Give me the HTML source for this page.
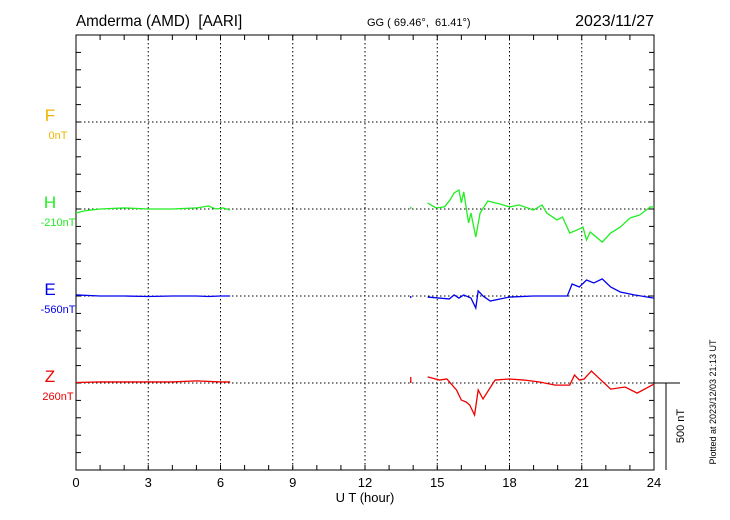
<!DOCTYPE html>
<html><head><meta charset="utf-8"><style>
body{margin:0;background:#fff;}
svg{display:block;font-family:"Liberation Sans",sans-serif;}
text{white-space:pre;}
</style></head><body>
<svg id="chart" width="730" height="520"></svg>
<script>
const hourTicks=[0,3,6,9,12,15,18,21,24];
const components=["F","H","E","Z"];
const baseLabels=["0nT","-210nT","-560nT","260nT"];
const colors=["#f0b400","#22ee22","#0000ee","#ee0000"];
// deviations in nT, [hour, nT]
const hSeg1=[[0,-23],[0.3,-12],[0.6,-6],[1,0],[2,6],[3,0],[4,0],[5,6],[5.5,17],[5.8,0],[6.1,6],[6.4,-6]];
const hSeg2=[[14.6,35],[14.95,6],[15.3,12],[15.53,52],[15.7,92],[15.9,109],[16.0,35],[16.1,98],[16.3,-80],[16.4,-23],[16.6,-161],[16.78,-23],[17.1,46],[17.6,29],[18.0,12],[18.4,23],[19.0,-6],[19.35,23],[19.55,-23],[19.97,-63],[20.2,-46],[20.5,-138],[20.8,-121],[21.05,-104],[21.2,-178],[21.35,-132],[21.85,-190],[22.2,-138],[22.6,-104],[23.0,-52],[23.4,-35],[23.85,12],[24,12]];
const eSeg1=[[0,6],[1,0],[2,0],[3,-3],[4,0],[5,0],[5.5,-3],[6,0],[6.4,0]];
const eSeg2=[[14.6,-6],[15.5,-17],[15.7,6],[15.9,-12],[16.1,6],[16.4,-12],[16.6,-69],[16.7,29],[16.9,0],[17.2,-29],[18,-6],[19,0],[20.4,0],[20.6,69],[20.9,52],[21.2,92],[21.5,75],[21.85,98],[22.2,52],[22.6,23],[23.2,6],[24,-12]];
const zSeg1=[[0,3],[1,6],[2,6],[3,6],[4,6],[5,12],[6,6],[6.4,6]];
const zSeg2=[[14.6,35],[15.1,17],[15.4,23],[15.8,-40],[16.0,-98],[16.2,-109],[16.35,-127],[16.55,-184],[16.7,-40],[16.9,-92],[17.4,17],[18.0,23],[18.6,17],[19.25,6],[19.9,-12],[20.5,-12],[20.7,46],[20.9,17],[21.1,23],[21.4,69],[21.8,17],[22.2,-35],[22.8,-23],[23.3,-58],[24,-6]];
const spikes=[[13.9,1,12],[13.9,2,-12],[13.9,3,12],[13.9,3,35]];
const ns="http://www.w3.org/2000/svg";
const svg=document.getElementById("chart");
const X0=76,X1=654,Y0=35,Y1=470,baseY=[122,209,296,383],pxPerNT=87/500;
const xs=h=>X0+h*(X1-X0)/24;
const ys=(i,v)=>baseY[i]-v*pxPerNT;
function mk(t,a,p){const e=document.createElementNS(ns,t);for(const k in a)e.setAttribute(k,a[k]);(p||svg).appendChild(e);return e;}
const fr=mk("rect",{x:X0,y:Y0,width:X1-X0,height:Y1-Y0,fill:"none",stroke:"#000","stroke-width":1});


for(let h=1;h<24;h++){const x=xs(h);mk("line",{x1:x,y1:Y0,x2:x,y2:Y0+5,stroke:"#000"});mk("line",{x1:x,y1:Y1,x2:x,y2:Y1-5,stroke:"#000"});}
for(let y=Y0+17.4;y<Y1;y+=17.4){mk("line",{x1:X0,y1:y,x2:X0+5,y2:y,stroke:"#000"});mk("line",{x1:X1,y1:y,x2:X1-5,y2:y,stroke:"#000"});}
hourTicks.forEach(h=>{const x=xs(h);
 if(h>0&&h<24){const g=mk("line",{x1:x,y1:Y0,x2:x,y2:Y1,stroke:"#000","stroke-dasharray":"1.5,2.5"});
 
 }
 const t=mk("text",{x:x,y:487,"text-anchor":"middle","font-size":13});t.textContent=h;
 
 
});
components.forEach((c,i)=>{
 const g=mk("line",{x1:X0,y1:baseY[i],x2:X1,y2:baseY[i],stroke:"#000","stroke-dasharray":"1.5,2.5"});
 
 
 const t=mk("text",{x:50,y:baseY[i]-1,"text-anchor":"middle","font-size":17,fill:colors[i]});t.textContent=c;
 
 
 const b=mk("text",{x:58,y:baseY[i]+17,"text-anchor":"middle","font-size":11,fill:colors[i]});b.textContent=baseLabels[i];
 
 
});
function line(seg,i,name){const p=mk("polyline",{points:seg.map(d=>xs(d[0])+","+ys(i,d[1])).join(" "),fill:"none",stroke:colors[i],"stroke-width":1.3});
 
 }
line(hSeg1,1,"h-series-morning");line(hSeg2,1,"h-series-afternoon");
line(eSeg1,2,"e-series-morning");line(eSeg2,2,"e-series-afternoon");
line(zSeg1,3,"z-series-morning");line(zSeg2,3,"z-series-afternoon");
spikes.forEach(s=>{const l=mk("line",{x1:xs(s[0]),y1:baseY[s[1]],x2:xs(s[0]),y2:ys(s[1],s[2]),stroke:colors[s[1]],"stroke-width":1.3});
 
 });
mk("line",{x1:X1,y1:383,x2:680,y2:383,stroke:"#000"});
const sb=mk("line",{x1:666,y1:383,x2:666,y2:470,stroke:"#000"});


function txt(s,a,name){const t=mk("text",a);t.textContent=s;return t;}
txt("500 nT",{x:0,y:0,"font-size":11,"text-anchor":"middle",transform:"translate(684,426) rotate(-90)"},"scale-bar-label");
txt("Plotted at 2023/12/03 21:13 UT",{x:0,y:0,"font-size":9,"text-anchor":"middle",transform:"translate(716,402) rotate(-90)"},"plotted-note");
txt("Amderma (AMD)  [AARI]",{x:76,y:26,"font-size":16,transform:"translate(76,0) scale(0.95,1) translate(-76,0)"},"station-title");
txt("GG ( 69.46°,  61.41°)",{x:367,y:26,"font-size":11},"coordinates");
txt("2023/11/27",{x:654,y:26,"font-size":16,"text-anchor":"end"},"date-label");
txt("U T (hour)",{x:365,y:502,"font-size":13,"text-anchor":"middle"},"x-axis-title");
</script>
</body></html>
